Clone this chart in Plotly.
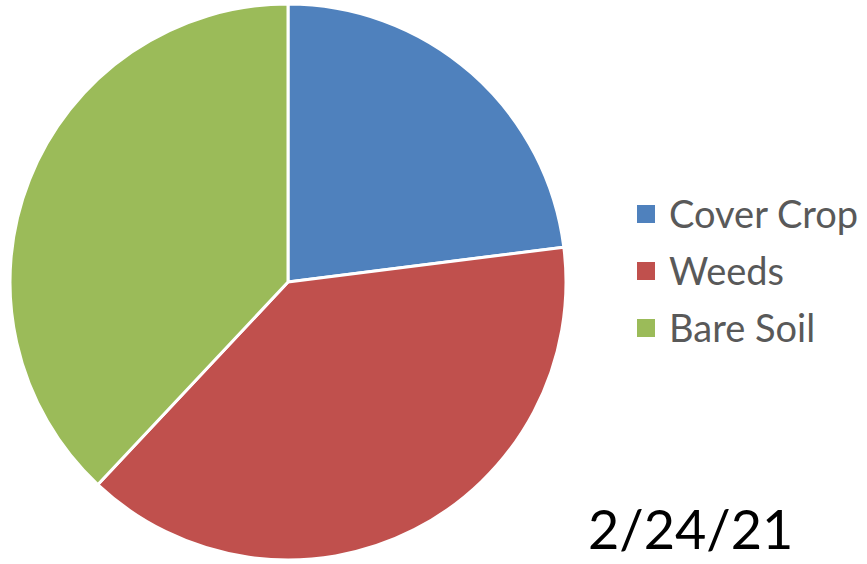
import plotly.graph_objects as go

labels = ["Cover Crop", "Weeds", "Bare Soil"]
values = [23, 39, 38]
colors = ["#4F81BD", "#C0504D", "#9BBB59"]
date_label = "2/24/21"

W, H = 867, 564

fig = go.Figure()
fig.add_trace(go.Pie(
    labels=labels, values=values, sort=False, direction="clockwise", rotation=0,
    marker=dict(colors=colors, line=dict(color="white", width=3)),
    textinfo="none", hoverinfo="label+percent", showlegend=False,
    domain=dict(x=[10 / W, 566 / W], y=[4 / H, 560 / H]),
))

# custom legend (square markers + labels)
leg_x = 637
leg_y0 = 214
leg_step = 57
sq = 18
for i, (lab, col) in enumerate(zip(labels, colors)):
    cy = leg_y0 + i * leg_step
    fig.add_shape(type="rect", xref="paper", yref="paper",
                  x0=leg_x / W, x1=(leg_x + sq) / W,
                  y0=1 - (cy + sq / 2) / H, y1=1 - (cy - sq / 2) / H,
                  fillcolor=col, line=dict(width=0))
    fig.add_annotation(xref="paper", yref="paper", x=(leg_x + sq + 12) / W, y=1 - (cy - 1) / H,
                       text=lab, showarrow=False, xanchor="left", yanchor="middle",
                       font=dict(family="Lato", size=38, color="#595959"))

fig.add_annotation(xref="paper", yref="paper", x=690 / W, y=1 - 528 / H,
                   text=date_label, showarrow=False, xanchor="center", yanchor="middle",
                   font=dict(family="Lato", size=54, color="black"))

fig.update_layout(width=W, height=H, margin=dict(l=0, r=0, t=0, b=0),
                  paper_bgcolor="white", plot_bgcolor="white")
fig.write_html("out.html", config={"displayModeBar": False},
               post_script="document.body.style.margin='0';document.body.style.overflow='hidden';")
